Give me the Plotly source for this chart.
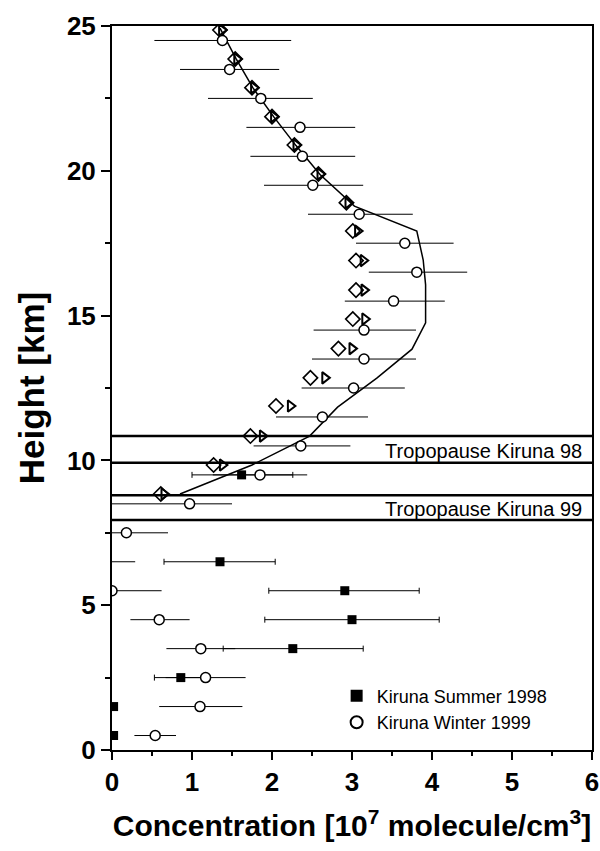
import plotly.graph_objects as go

# ---- data (concentration in 1e7 molecule/cm3, height in km) ----
winter_h = [0.5, 1.5, 2.5, 3.5, 4.5, 5.5, 6.5, 7.5, 8.5, 9.5, 10.5, 11.5, 12.5,
            13.5, 14.5, 15.5, 16.5, 17.5, 18.5, 19.5, 20.5, 21.5, 22.5, 23.5, 24.5]
winter_c = [0.54, 1.10, 1.17, 1.11, 0.59, 0.0, -0.10, 0.18, 0.97, 1.85, 2.36, 2.63, 3.02,
            3.15, 3.15, 3.52, 3.81, 3.66, 3.09, 2.51, 2.38, 2.35, 1.86, 1.47, 1.38]
winter_lo = [0.28, 0.59, 0.67, 0.68, 0.23, 0.0, -0.10, 0.0, 0.0, 1.26, 1.77, 2.05, 2.37,
             2.50, 2.52, 2.91, 3.21, 3.05, 2.45, 1.90, 1.73, 1.68, 1.20, 0.85, 0.53]
winter_hi = [0.80, 1.63, 1.67, 1.54, 0.97, 0.62, 0.29, 0.70, 1.50, 2.44, 2.98, 3.20, 3.66,
             3.80, 3.80, 4.16, 4.44, 4.27, 3.76, 3.14, 3.04, 3.04, 2.51, 2.09, 2.24]

summer_h = [0.5, 1.5, 2.5, 3.5, 4.5, 5.5, 6.5, 9.5]
summer_c = [0.02, 0.02, 0.86, 2.26, 3.00, 2.91, 1.35, 1.62]
summer_lo = [0.02, 0.02, 0.53, 1.39, 1.91, 1.96, 0.65, 1.00]
summer_hi = [0.02, 0.02, 1.19, 3.14, 4.09, 3.84, 2.04, 2.26]

model_h = [8.84, 9.84, 10.84, 11.88, 12.85, 13.86, 14.88, 15.88, 16.90, 17.92,
           18.90, 19.89, 20.89, 21.87, 22.87, 23.86, 24.86]
diamond_c = [0.61, 1.27, 1.73, 2.05, 2.48, 2.83, 3.01, 3.05, 3.05, 3.01,
             2.93, 2.58, 2.28, 2.00, 1.75, 1.54, 1.35]
triangle_c = [0.65, 1.38, 1.88, 2.23, 2.66, 3.00, 3.16, 3.15, 3.14, 3.07,
              2.95, 2.60, 2.30, 2.02, 1.77, 1.56, 1.37]

curve_h = [8.84, 9.84, 10.84, 11.84, 12.84, 13.84, 14.75, 16.06, 16.92, 17.92,
           18.78, 19.87, 20.87, 21.87, 22.87, 23.87, 24.93]
curve_c = [0.85, 1.75, 2.47, 2.82, 3.31, 3.75, 3.92, 3.92, 3.89, 3.81,
           3.03, 2.60, 2.30, 2.02, 1.76, 1.55, 1.35]

trop98 = [9.92, 10.84]
trop99 = [7.94, 8.80]
trop_labels = ["Tropopause Kiruna 98", "Tropopause Kiruna 99"]

x_ticks = [0, 1, 2, 3, 4, 5, 6]
y_ticks = [0, 5, 10, 15, 20, 25]

FONT = "Liberation Sans"

fig = go.Figure()

# model curve
fig.add_trace(go.Scatter(x=curve_c, y=curve_h, mode="lines",
                         line=dict(color="black", width=1.5), showlegend=False,
                         hoverinfo="skip"))

# diamonds and triangles
fig.add_trace(go.Scatter(x=triangle_c, y=model_h, mode="markers", showlegend=False,
                         marker=dict(symbol="triangle-right-open", size=10, color="black",
                                     line=dict(width=2, color="black"))))
fig.add_trace(go.Scatter(x=diamond_c, y=model_h, mode="markers", showlegend=False,
                         marker=dict(symbol="diamond-open", size=11, color="black",
                                     line=dict(width=1.6, color="black"))))

# summer squares
fig.add_trace(go.Scatter(
    x=summer_c, y=summer_h, mode="markers", name="Kiruna Summer 1998",
    marker=dict(symbol="square", size=9, color="black"),
    error_x=dict(type="data", symmetric=False,
                 array=[h - c for h, c in zip(summer_hi, summer_c)],
                 arrayminus=[c - l for c, l in zip(summer_c, summer_lo)],
                 color="black", thickness=1, width=3)))

# winter circles
fig.add_trace(go.Scatter(
    x=winter_c, y=winter_h, mode="markers", name="Kiruna Winter 1999",
    marker=dict(symbol="circle", size=10, color="white",
                line=dict(width=1.5, color="black")),
    error_x=dict(type="data", symmetric=False,
                 array=[h - c for h, c in zip(winter_hi, winter_c)],
                 arrayminus=[c - l for c, l in zip(winter_c, winter_lo)],
                 color="black", thickness=1, width=0)))

# tropopause bands
for band, label in zip([trop98, trop99], trop_labels):
    for yv in band:
        fig.add_shape(type="line", xref="x", yref="y", x0=0, x1=6, y0=yv, y1=yv,
                      line=dict(color="black", width=2.5))
    fig.add_annotation(x=5.9, y=(band[0] + band[1]) / 2 - 0.05, xref="x", yref="y",
                       text=label, showarrow=False, xanchor="right", yanchor="middle",
                       font=dict(family=FONT, size=20, color="black"))

fig.update_layout(
    width=600, height=851,
    margin=dict(l=112, r=8, t=26, b=101),
    paper_bgcolor="white", plot_bgcolor="white",
    font=dict(family=FONT, color="black"),
    legend=dict(x=0.468, y=0.100, xanchor="left", yanchor="top",
                font=dict(family=FONT, size=18, color="black"),
                bgcolor="rgba(0,0,0,0)", itemsizing="constant",
                tracegroupgap=0),
)

fig.update_xaxes(range=[0, 6], tickvals=x_ticks, ticktext=[str(t) for t in x_ticks],
                 automargin=False, ticklabeloverflow="allow",
                 showgrid=False, zeroline=False,
                 showline=True, linecolor="black", linewidth=2, mirror=True,
                 ticks="outside", ticklen=8, tickwidth=2, tickcolor="black",
                 minor=dict(dtick=0.5, ticks="outside", ticklen=4, tickwidth=1.5,
                            tickcolor="black"),
                 tickfont=dict(family=FONT, size=26, weight="bold"),
                 title=dict(text="Concentration [10<sup>7</sup> molecule/cm<sup>3</sup>]",
                            font=dict(family=FONT, size=30, weight="bold"), standoff=19))
fig.update_yaxes(range=[0, 25], tickvals=y_ticks, ticktext=[str(t) for t in y_ticks],
                 automargin=False, ticklabeloverflow="allow",
                 showgrid=False, zeroline=False,
                 showline=True, linecolor="black", linewidth=2, mirror=True,
                 ticks="outside", ticklen=9, tickwidth=2, tickcolor="black",
                 minor=dict(dtick=2.5, ticks="outside", ticklen=5, tickwidth=1.5,
                            tickcolor="black"),
                 tickfont=dict(family=FONT, size=26, weight="bold"),
                 title=dict(text="Height [km]",
                            font=dict(family=FONT, size=35, weight="bold"), standoff=12))

fig.write_html("out.html", config={"displayModeBar": False},
               post_script="document.body.style.margin='0';document.body.style.padding='0';")
